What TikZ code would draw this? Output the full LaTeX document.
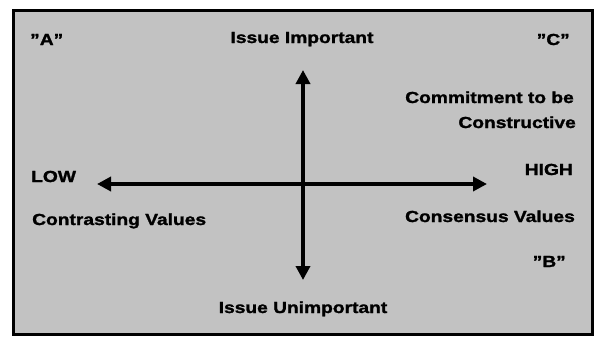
\documentclass[tikz,border=0pt]{standalone}
\usepackage{fontspec}
\setmainfont{Liberation Sans}[FakeStretch=1.2,FakeBold=1.5]
\usetikzlibrary{arrows.meta}
\begin{document}
\begin{tikzpicture}[x=1pt,y=-1pt,
  lbl/.style={font=\bfseries\fontsize{16}{18}\selectfont, inner sep=0pt, text=black},
  axis/.style={line width=4.5pt,
    {Triangle[length=14pt,width=14pt]}-{Triangle[length=14pt,width=14pt]}},
  panel/.style={line width=3pt, draw=black, fill=gray!48}]
\useasboundingbox (0,0) rectangle (597,340);

% shaded panel
\draw[panel] (13,10.5) rectangle (592.5,334.5);

% corner letters
\node[lbl, anchor=base west] (qa) at (30,45) {"A"};
\node[lbl, anchor=base east] (qc) at (570,45) {"C"};
\node[lbl, anchor=base east] (qb) at (566,267) {"B"};

% vertical axis labels
\node[lbl, anchor=base] (imp) at (302,43) {Issue Important};
\node[lbl, anchor=base] (unimp) at (303,313) {Issue Unimportant};

% horizontal axis labels
\node[lbl, anchor=base west] (low) at (31,182) {LOW};
\node[lbl, anchor=base east] (high) at (573,175) {HIGH};
\node[lbl, anchor=base west] (contr) at (32,225) {Contrasting Values};
\node[lbl, anchor=base east] (cons) at (575,222) {Consensus Values};

% commitment label
\node[lbl, anchor=base east] (commit) at (574,103) {Commitment to be};
\node[lbl, anchor=base east] (constr) at (576,128) {Constructive};

% axis end points
\coordinate (vtop) at (303,70);
\coordinate (vbot) at (303,280);
\coordinate (hleft) at (97,184);
\coordinate (hright) at (487,184);

\draw[axis] (vtop) -- (vbot);
\draw[axis] (hleft) -- (hright);
\end{tikzpicture}
\end{document}
